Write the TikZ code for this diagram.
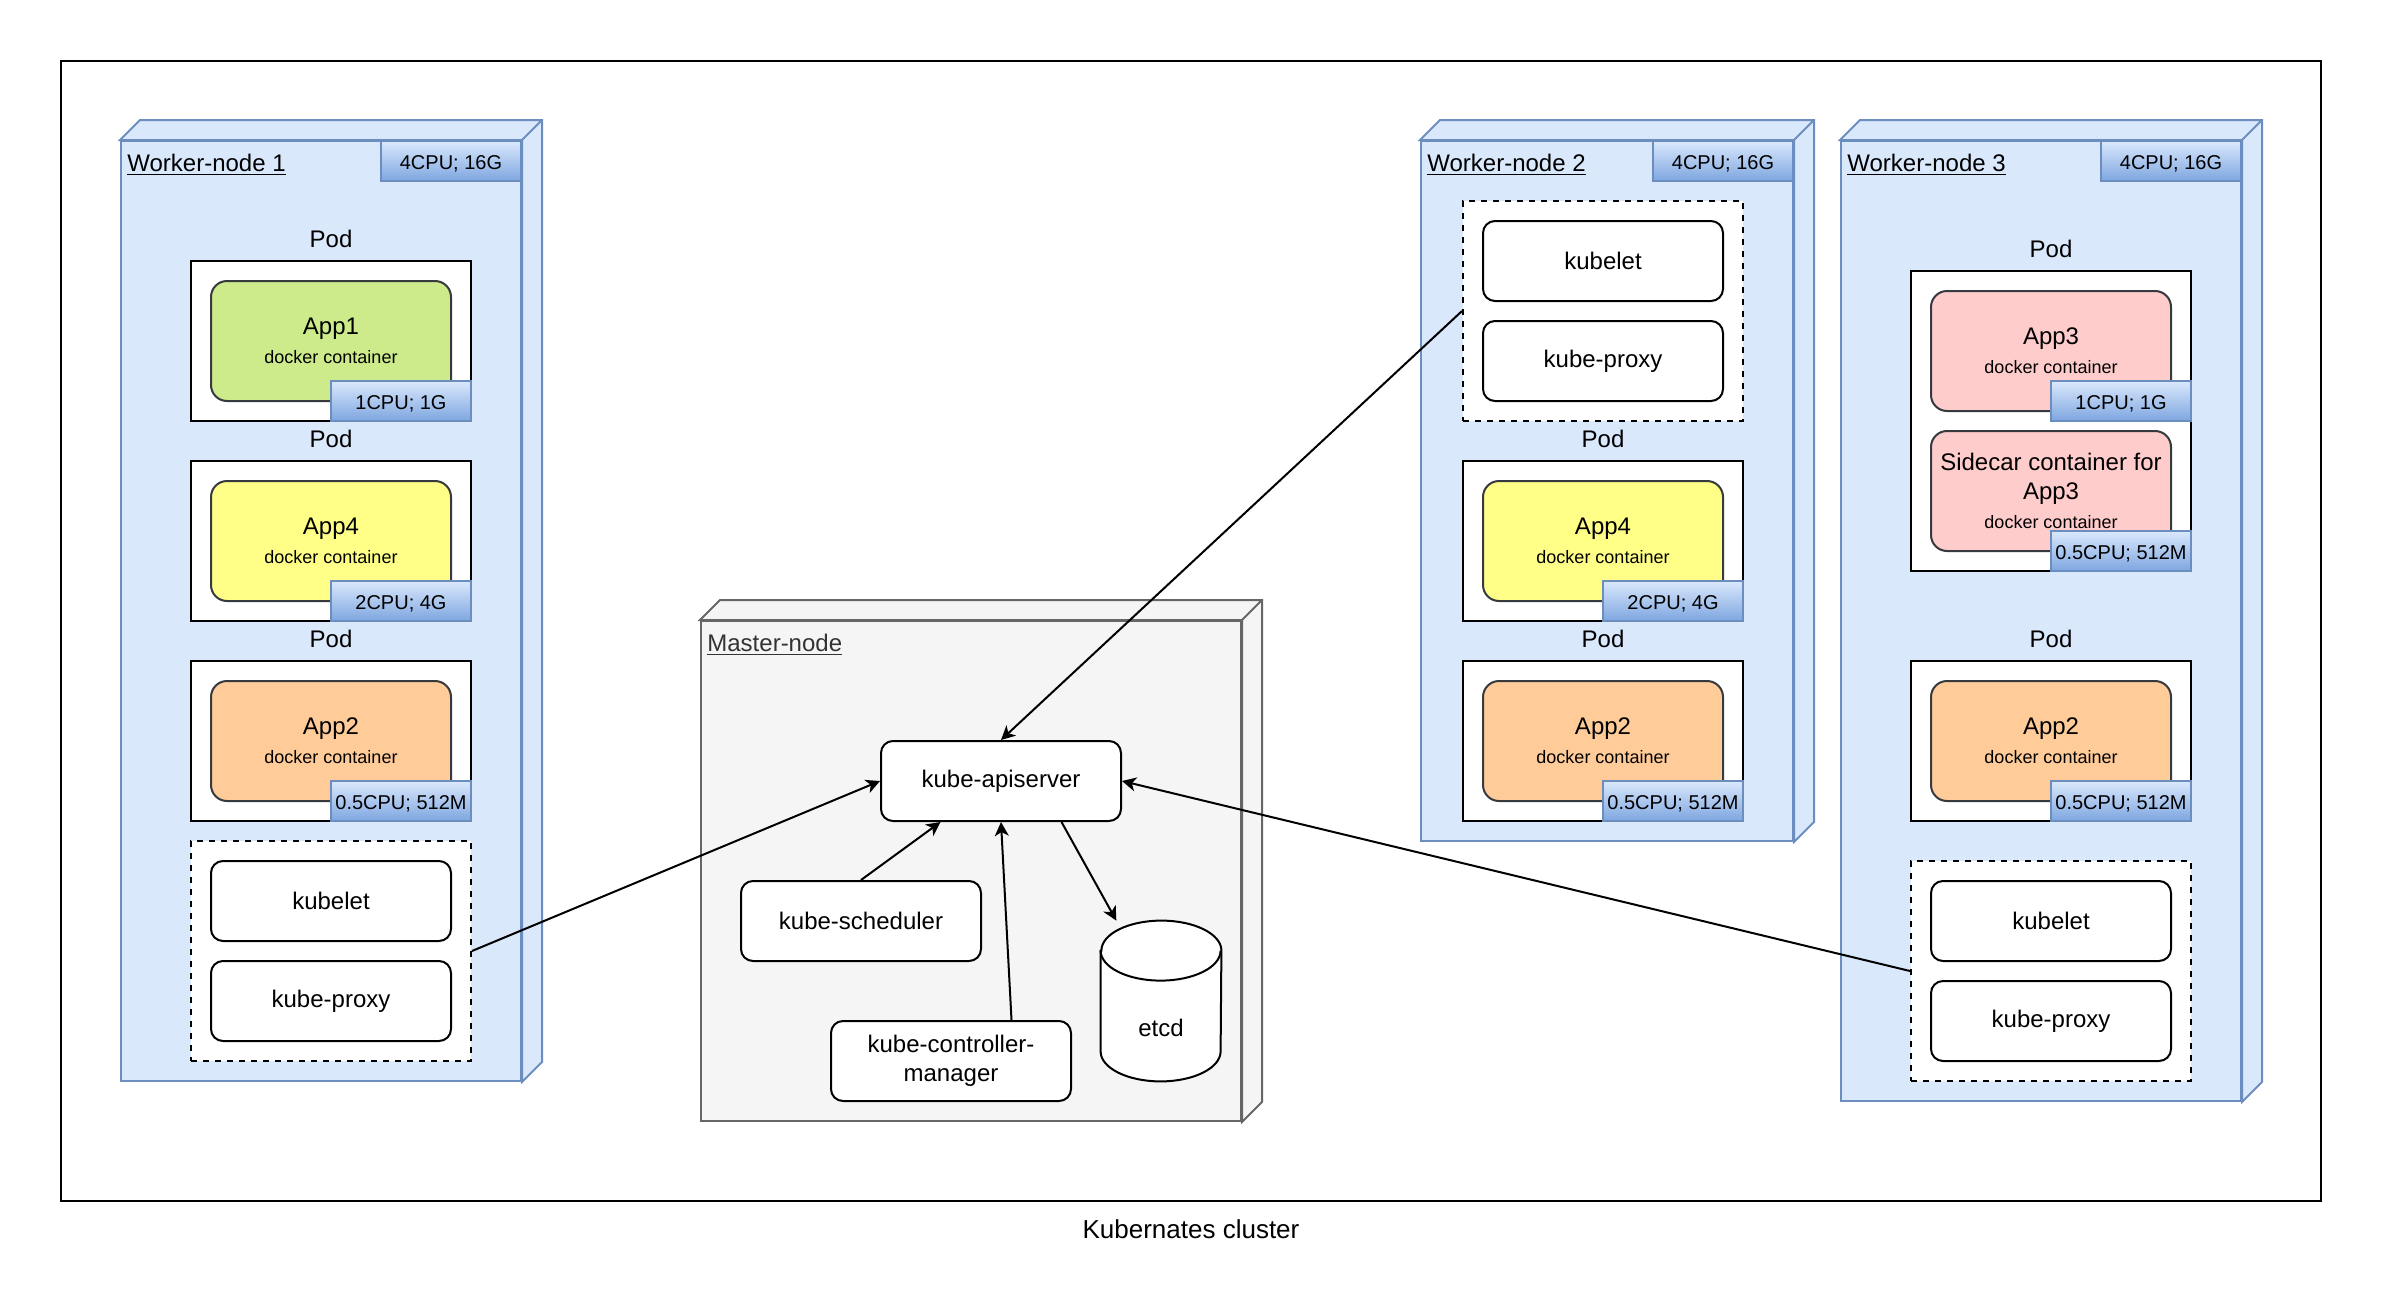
\documentclass[tikz,border=0pt]{standalone}
\usepackage{fontspec}
\setmainfont{Liberation Sans}
\usetikzlibrary{arrows.meta,positioning,calc}

\definecolor{wnfill}{HTML}{DAE8FC}
\definecolor{wnline}{HTML}{6C8EBF}
\definecolor{badgebot}{HTML}{7EA6E0}
\definecolor{mnfill}{HTML}{F5F5F5}
\definecolor{mnline}{HTML}{666666}
\definecolor{mntext}{HTML}{333333}
\definecolor{appline}{HTML}{36393D}
\definecolor{appgreen}{HTML}{CDEB8B}
\definecolor{appyellow}{HTML}{FFFF88}
\definecolor{apporange}{HTML}{FFCC99}
\definecolor{apppink}{HTML}{FFCCCC}

% underlined box title
\newcommand{\titleul}[1]{\setbox0\hbox{#1}\rlap{\rule[-2.2pt]{\wd0}{0.9pt}}\box0}
% container text
\newcommand{\dockerapp}[1]{#1\\{\fontsize{9}{11}\selectfont docker container}}
% top and side faces of a 3d box
\newcommand{\boxfaces}[2]{%
  \draw[#2] (#1.north west) -- ++(20,-20) -- ([shift={(20,-20)}]#1.north east)
    -- ([shift={(20,-20)}]#1.south east) -- (#1.south east) -- (#1.north east) -- cycle
    (#1.north east) -- ++(20,-20);}

\tikzset{
  worker/.style={draw=wnline, fill=wnfill, line width=1pt, inner sep=0pt},
  master/.style={draw=mnline, fill=mnfill, line width=1pt, inner sep=0pt},
  wntitle/.style={anchor=base west, inner sep=0pt},
  resbadge/.style={draw=wnline, top color=wnfill, bottom color=badgebot, line width=1pt,
    minimum width=70pt, minimum height=20pt, inner sep=0pt, text height=8.5pt, text depth=0pt,
    font=\fontsize{10}{12}\selectfont},
  pod/.style={draw, fill=white, line width=1pt, minimum width=140pt, minimum height=80pt,
    label={[label distance=2.5pt]above:Pod}},
  appbox/.style={draw=appline, line width=1pt, rounded corners=8pt, minimum width=120pt,
    minimum height=60pt, align=center, inner sep=2pt},
  sysgroup/.style={draw, dash pattern=on 3pt off 3pt, fill=white, line width=1pt,
    minimum width=140pt, minimum height=110pt},
  svc/.style={draw, fill=white, line width=1pt, rounded corners=6pt, minimum width=120pt,
    minimum height=40pt, align=center, inner sep=2pt},
  link/.style={line width=1pt, -{Stealth[length=7pt,width=7pt,inset=2pt]}}
}

\begin{document}
\begin{tikzpicture}[x=0.5pt, y=-0.5pt, font=\fontsize{12}{14.5}\selectfont]
	\useasboundingbox (0,0) rectangle (2382,1306);

	% cluster
	\node[draw, line width=1pt, minimum width=1130pt, minimum height=570pt] (cluster) at (1191,631) {};
	\node[below=5.5pt of cluster, font=\fontsize{13}{15}\selectfont] (caption) {Kubernates cluster};

	% worker-node 1
	\node[worker, minimum width=200pt, minimum height=470pt] (wn1) at (321,611) {};
	\boxfaces{wn1}{worker}
	\node[resbadge, anchor=north east] (wn1res) at (wn1.north east) {4CPU; 16G};
	\node[wntitle] (wn1title) at ([shift={(7,31)}]wn1.north west) {\titleul{Worker-node 1}};

	\node[pod] (wn1pod1) at (331,341) {};
	\node[appbox, fill=appgreen] (wn1app1) at (wn1pod1) {\dockerapp{App1}};
	\node[resbadge, anchor=south east] (wn1app1res) at (wn1pod1.south east) {1CPU; 1G};

	\node[pod] (wn1pod2) at (331,541) {};
	\node[appbox, fill=appyellow] (wn1app4) at (wn1pod2) {\dockerapp{App4}};
	\node[resbadge, anchor=south east] (wn1app4res) at (wn1pod2.south east) {2CPU; 4G};

	\node[pod] (wn1pod3) at (331,741) {};
	\node[appbox, fill=apporange] (wn1app2) at (wn1pod3) {\dockerapp{App2}};
	\node[resbadge, anchor=south east] (wn1app2res) at (wn1pod3.south east) {0.5CPU; 512M};

	\node[sysgroup] (wn1sys) at (331,951) {};
	\node[svc] (wn1kubelet) at (331,901) {kubelet};
	\node[svc] (wn1proxy) at (331,1001) {kube-proxy};

	% worker-node 2
	\node[worker, minimum width=186pt, minimum height=350pt] (wn2) at (1607,491) {};
	\boxfaces{wn2}{worker}
	\node[resbadge, anchor=north east] (wn2res) at (wn2.north east) {4CPU; 16G};
	\node[wntitle] (wn2title) at ([shift={(7,31)}]wn2.north west) {\titleul{Worker-node 2}};

	\node[sysgroup] (wn2sys) at (1603,311) {};
	\node[svc] (wn2kubelet) at (1603,261) {kubelet};
	\node[svc] (wn2proxy) at (1603,361) {kube-proxy};

	\node[pod] (wn2pod1) at (1603,541) {};
	\node[appbox, fill=appyellow] (wn2app4) at (wn2pod1) {\dockerapp{App4}};
	\node[resbadge, anchor=south east] (wn2app4res) at (wn2pod1.south east) {2CPU; 4G};

	\node[pod] (wn2pod2) at (1603,741) {};
	\node[appbox, fill=apporange] (wn2app2) at (wn2pod2) {\dockerapp{App2}};
	\node[resbadge, anchor=south east] (wn2app2res) at (wn2pod2.south east) {0.5CPU; 512M};

	% worker-node 3
	\node[worker, minimum width=200pt, minimum height=480pt] (wn3) at (2041,621) {};
	\boxfaces{wn3}{worker}
	\node[resbadge, anchor=north east] (wn3res) at (wn3.north east) {4CPU; 16G};
	\node[wntitle] (wn3title) at ([shift={(7,31)}]wn3.north west) {\titleul{Worker-node 3}};

	\node[pod, minimum height=150pt] (wn3pod1) at (2051,421) {};
	\node[appbox, fill=apppink] (wn3app3) at (2051,351) {\dockerapp{App3}};
	\node[resbadge, anchor=south east] (wn3app3res) at ([shift={(20,10)}]wn3app3.south east) {1CPU; 1G};
	\node[appbox, fill=apppink] (wn3side) at (2051,491) {Sidecar container for\\App3\\{\fontsize{9}{11}\selectfont docker container}};
	\node[resbadge, anchor=south east] (wn3sideres) at (wn3pod1.south east) {0.5CPU; 512M};

	\node[pod] (wn3pod2) at (2051,741) {};
	\node[appbox, fill=apporange] (wn3app2) at (wn3pod2) {\dockerapp{App2}};
	\node[resbadge, anchor=south east] (wn3app2res) at (wn3pod2.south east) {0.5CPU; 512M};

	\node[sysgroup] (wn3sys) at (2051,971) {};
	\node[svc] (wn3kubelet) at (2051,921) {kubelet};
	\node[svc] (wn3proxy) at (2051,1021) {kube-proxy};

	% master-node
	\node[master, minimum width=270pt, minimum height=250pt] (mn) at (971,871) {};
	\boxfaces{mn}{master}
	\node[wntitle, text=mntext] (mntitle) at ([shift={(7,31)}]mn.north west) {\titleul{Master-node}};

	\node[svc] (api) at (1001,781) {kube-apiserver};
	\node[svc] (sched) at (861,921) {kube-scheduler};
	\node[svc] (ctrl) at (951,1061) {kube-controller-\\manager};

	\node[minimum width=60pt, minimum height=80pt, inner sep=0pt] (etcd) at (1161,1001) {};
	\draw[line width=1pt, fill=white] ([yshift=-15pt]etcd.north west) -- ([yshift=15pt]etcd.south west)
		arc[start angle=180, end angle=360, x radius=30pt, y radius=15pt]
		-- ([yshift=-15pt]etcd.north east)
		arc[start angle=0, end angle=180, x radius=30pt, y radius=15pt] -- cycle;
	\draw[line width=1pt] ([yshift=-15pt]etcd.north west)
		arc[start angle=180, end angle=360, x radius=30pt, y radius=15pt];
	\node (etcdlbl) at ([yshift=-13.5pt]etcd.center) {etcd};

	% connections
	\draw[link] (wn1sys.east) -- (api.west);
	\draw[link] (wn2sys.west) -- (api.north);
	\draw[link] (wn3sys.west) -- (api.east);
	\draw[link] (sched.north) -- ($(api.south west)!0.25!(api.south east)$);
	\draw[link] ($(ctrl.north west)!0.75!(ctrl.north east)$) -- (api.south);
	\draw[link] ($(api.south west)!0.75!(api.south east)$) -- (etcd);
\end{tikzpicture}
\end{document}
